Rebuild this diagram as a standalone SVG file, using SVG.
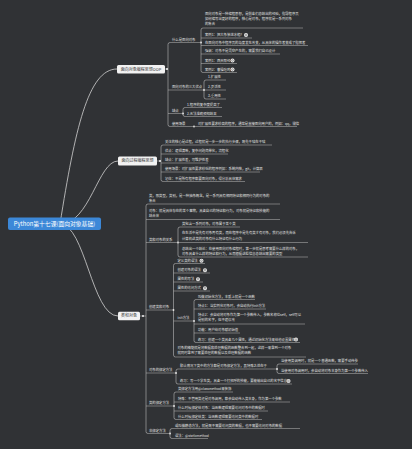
<svg xmlns="http://www.w3.org/2000/svg" width="412" height="449" viewBox="0 0 412 449">
<style>
.t{font-family:"Noto Sans CJK SC","Noto Sans",sans-serif;font-size:3.35px;fill:#e2e2e2}
.bt{font-family:"Noto Sans CJK SC","Noto Sans",sans-serif;font-size:4px;fill:#333;text-anchor:middle}
.rt{font-family:"Noto Sans CJK SC","Noto Sans",sans-serif;font-size:5.8px;fill:#fff;text-anchor:middle}
.ul{stroke:#bdbdbd;stroke-width:0.5;fill:none}
.c{stroke:#c8c8c8;stroke-width:0.55;fill:none}
.cv{stroke:#d2d2d2;stroke-width:0.8;fill:none}
.dot{fill:#f0f0f0}
.box{fill:#f2f2f2}
</style>
<defs>
<g id="ic"><circle r="2" fill="#f2f2f2"/><circle r="0.9" fill="none" stroke="#333" stroke-width="0.4"/></g>
</defs>
<rect width="412" height="449" fill="#303235"/>

<g id="connectors">
<path class="cv" d="M60,224 C75,130 88,69 117,69"/>
<path class="cv" d="M60,224 C90,224 98,161 118,161"/>
<path class="cv" d="M60,224 C85,224 92,316 118,316"/>
<path class="c" d="M165,69 H168"/>
<path class="c" d="M157,161 H161"/>
<path class="c" d="M140,316 H146"/>
<path class="c" d="M170,42.5 Q168,42.5 168,44.5 V124.5 Q168,126.5 170,126.5"/>
<path class="c" d="M203,28 Q201,28 201,30 V70.5 Q201,72.5 203,72.5"/>
<path class="c" d="M206,80 Q204,80 204,82 V97 Q204,99 206,99"/>
<path class="c" d="M185,107.5 Q183,107.5 183,109.5 V114.5 Q183,116.5 185,116.5"/>
<path class="c" d="M163,145 Q161,145 161,147 V179.5 Q161,181.5 163,181.5"/>
<path class="c" d="M148,204 Q146,204 146,206 V431.5 Q146,433.5 148,433.5"/>
<path class="c" d="M180,227 Q178,227 178,229 V255 Q178,257 180,257"/>
<path class="c" d="M175.5,263.5 Q173.5,263.5 173.5,265.5 V355 Q173.5,357 175.5,357"/>
<path class="c" d="M196,299.5 Q194,299.5 194,301.5 V340.5 Q194,342.5 196,342.5"/>
<path class="c" d="M178,369 Q176,369 176,371 V382 Q176,384 178,384"/>
<path class="c" d="M279,364 Q277,364 277,366 V371.5 Q277,373.5 279,373.5"/>
<path class="c" d="M176,392 Q174,392 174,394 V417.5 Q174,419.5 176,419.5"/>
<path class="c" d="M172,428.5 Q170,428.5 170,430.5 V436.5 Q170,438.5 172,438.5"/>
<g class="dot">
<circle cx="167" cy="69" r="1"/><circle cx="160" cy="161" r="1"/><circle cx="143" cy="316" r="1"/>
<circle cx="201" cy="42.5" r="0.9"/><circle cx="204" cy="90" r="0.9"/><circle cx="183" cy="113.5" r="0.9"/><circle cx="194" cy="126.5" r="0.9"/>
<circle cx="178" cy="242.5" r="0.9"/><circle cx="173.5" cy="310" r="0.9"/><circle cx="194" cy="321" r="0.9"/>
<circle cx="176" cy="373" r="0.9"/><circle cx="277" cy="369" r="0.9"/><circle cx="174" cy="406" r="0.9"/><circle cx="170" cy="433.5" r="0.9"/>
</g>
</g>

<g id="root"><rect x="8" y="217.5" width="93" height="12.5" rx="2" fill="#3c88d8"/><text class="rt" x="54.5" y="226">Python第十七课(面向对象基础)</text></g>

<g id="b-oop"><rect class="box" x="117" y="65" width="48" height="8.5" rx="1.5"/><text class="bt" x="141" y="70.6">面向对象编程思想OOP</text></g>
<g id="b-pop"><rect class="box" x="118" y="156.5" width="39" height="9" rx="1.5"/><text class="bt" x="137.5" y="162.4">面向过程编程思想</text></g>
<g id="b-cls"><rect class="box" x="118" y="311.8" width="22" height="8.5" rx="1.5"/><text class="bt" x="129" y="317.4">类和对象</text></g>

<g id="n1"><path class="ul" d="M170,42.5 H201"/><text class="t" x="172" y="41">什么是面向对象</text></g>
<g id="n1a"><path class="ul" d="M203,28 H303"/><text class="t" x="205" y="14.5">面向对象是一种编程思想，是前辈们总结出的经验，指导程序员</text><text class="t" x="205" y="19.8">如何编写出更好的程序，核心是对象，程序就是一系列对象</text><text class="t" x="205" y="25.1">的集合</text></g>
<g id="n1b"><path class="ul" d="M201,38 H252"/><text class="t" x="205" y="36">案例1：把大象装进冰箱？</text><use href="#ic" x="246" y="35"/></g>
<g id="n1c"><path class="ul" d="M201,45.5 H308"/><text class="t" x="205" y="43.6">在面向对象中程序员的角度发生改变，从具体的操作者变成了指挥者</text></g>
<g id="n1d"><path class="ul" d="M201,54 H280"/><text class="t" x="205" y="52">强调：对象不是凭空产生的，需要我们自己设计</text></g>
<g id="n1e"><path class="ul" d="M201,63.5 H237"/><text class="t" x="205" y="61.5">案例1：西天取经</text><use href="#ic" x="232.5" y="60.5"/></g>
<g id="n1f"><path class="ul" d="M203,72.5 H237"/><text class="t" x="205" y="70.5">案例2：曹操吃鸡</text><use href="#ic" x="232.5" y="69.5"/></g>

<g id="n2"><path class="ul" d="M168,90 H204"/><text class="t" x="172" y="88">面向对象的三大优点</text></g>
<g id="n2a"><path class="ul" d="M206,80 H226"/><text class="t" x="208" y="78">1.扩展性</text></g>
<g id="n2b"><path class="ul" d="M204,90 H226"/><text class="t" x="208" y="88">2.灵活性</text></g>
<g id="n2c"><path class="ul" d="M206,99 H226"/><text class="t" x="208" y="97">3.重用性</text></g>

<g id="n3"><path class="ul" d="M168,113.5 H183"/><text class="t" x="172" y="111.5">缺点</text></g>
<g id="n3a"><path class="ul" d="M185,107.5 H222"/><text class="t" x="187" y="105.5">1.程序的复杂度提高了</text></g>
<g id="n3b"><path class="ul" d="M185,116.5 H222"/><text class="t" x="187" y="114.5">2.无法准确预知结果</text></g>

<g id="n4"><path class="ul" d="M170,126.5 H194"/><text class="t" x="172" y="124.5">使用场景</text></g>
<g id="n4a"><path class="ul" d="M194,126.5 H297"/><text class="t" x="198" y="124.5">对扩展性要求较高的程序，通常是直接面向用户的，例如：qq，微信</text></g>

<g id="p1"><path class="ul" d="M163,145 H272"/><text class="t" x="165" y="143">关注的核心是过程，过程就是一步一步的执行步骤，既先干啥在干啥</text></g>
<g id="p2"><path class="ul" d="M161,154 H228"/><text class="t" x="165" y="152">优点：逻辑清晰，复杂问题简单化，流程化</text></g>
<g id="p3"><path class="ul" d="M161,163 H208"/><text class="t" x="165" y="161">缺点：扩展性差，可维护性差</text></g>
<g id="p4"><path class="ul" d="M161,172 H260"/><text class="t" x="165" y="170">使用场景：对扩展性要求较低的程序例如：系统内核，git，计算器</text></g>
<g id="p5"><path class="ul" d="M163,181.5 H245"/><text class="t" x="165" y="179.5">记住：不是所有程序都要面向对象，得分析具体需求</text></g>

<g id="c1"><path class="ul" d="M148,204 H280"/><text class="t" x="149" y="197.3">类，即类型，类别，是一种抽象概念，是一系列具有相同特征和相同行为的对象的</text><text class="t" x="149" y="202.4">集合</text></g>
<g id="c2"><path class="ul" d="M146,219.5 H280"/><text class="t" x="149" y="211.8">对象：就是具体存在的某个事物，具备自己的特征和行为，对象就是特征和技能的</text><text class="t" x="149" y="217">结合体</text></g>

<g id="rel"><path class="ul" d="M146,242.5 H178"/><text class="t" x="149" y="240.5">类和对象的关系</text></g>
<g id="rel1"><path class="ul" d="M180,227 H240"/><text class="t" x="182" y="225">类包含一系列对象，对象属于某个类</text></g>
<g id="rel2"><path class="ul" d="M178,242.5 H308"/><text class="t" x="182" y="234.4">在生活中是先有对象再有类，而在程序中是先有类才有对象，我们必须先告诉</text><text class="t" x="182" y="239.7">计算机这类的对象有什么特征有什么行为</text></g>
<g id="rel3"><path class="ul" d="M180,257 H308"/><text class="t" x="182" y="249.5">总结出一个结论：在使用面向对象编程时，第一步就是思考需要什么样的对象，</text><text class="t" x="182" y="254.8">对象具备什么样的特征和行为，从而根据这些信息总结出需要的类型</text></g>

<g id="create"><path class="ul" d="M146,310 H173.5"/><text class="t" x="149" y="308">创建类和对象</text></g>
<g id="cr1"><path class="ul" d="M175.5,263.5 H205"/><text class="t" x="177.5" y="261.5">定义类的语法</text><use href="#ic" x="201.5" y="260.7"/></g>
<g id="cr2"><path class="ul" d="M173.5,273 H210"/><text class="t" x="177.5" y="271">创建对象的语法</text><use href="#ic" x="205" y="270.2"/></g>
<g id="cr3"><path class="ul" d="M173.5,282 H203"/><text class="t" x="177.5" y="280">属性的写法</text><use href="#ic" x="198" y="279.2"/></g>
<g id="cr4"><path class="ul" d="M173.5,291 H210"/><text class="t" x="177.5" y="289">属性的访问方式</text><use href="#ic" x="205" y="288.2"/></g>
<g id="init"><path class="ul" d="M173.5,321 H194"/><text class="t" x="177.5" y="319">init方法</text></g>
<g id="in1"><path class="ul" d="M196,299.5 H255"/><text class="t" x="198" y="297.5">叫做初始化方法，本质上就是一个函数</text></g>
<g id="in2"><path class="ul" d="M194,309 H266"/><text class="t" x="198" y="307">特点1：当实例化对象时，会自动执行init方法</text></g>
<g id="in3"><path class="ul" d="M194,324 H305"/><text class="t" x="198" y="315.8">特点2：会自动将对象作为第一个参数传入，参数名称位self，self可以</text><text class="t" x="198" y="321.2">是别的名字，但不建议改</text></g>
<g id="in4"><path class="ul" d="M194,333 H240"/><text class="t" x="198" y="331">功能：用户给对象赋初始值</text></g>
<g id="in5"><path class="ul" d="M196,342.5 H300"/><text class="t" x="198" y="340.5">练习：创建一个类具备几个属性，通过初始化方法来给他设置属性</text><use href="#ic" x="296" y="339.6"/></g>
<g id="cr5"><path class="ul" d="M175.5,357 H306"/><text class="t" x="177.5" y="348.6">对象的精髓就是将数据和处理数据的函数整合到一起，这样一来拿到一个对象</text><text class="t" x="177.5" y="354">就同时拿到了需要处理的数据以及处理数据的函数</text></g>

<g id="objbind"><path class="ul" d="M146,373 H176"/><text class="t" x="149" y="371">对象的绑定方法</text></g>
<g id="ob1"><path class="ul" d="M178,369 H277"/><text class="t" x="180" y="367">默认情况下类中的方法都是对象绑定方法，其特殊之处在于</text></g>
<g id="ob1a"><path class="ul" d="M279,364 H358"/><text class="t" x="281" y="362">当使用类调用时，就是一个普通函数，需要手动传参</text></g>
<g id="ob1b"><path class="ul" d="M279,373.5 H368"/><text class="t" x="281" y="371.5">当使用对象调用时，会自动将对象本身作为第一个参数传入</text></g>
<g id="ob2"><path class="ul" d="M178,384 H292"/><text class="t" x="180" y="382">练习：写一个学生类，具备一个打招呼的技能，要能输出自己的名字信息</text><use href="#ic" x="288.5" y="381"/></g>

<g id="clsbind"><path class="ul" d="M146,406 H174"/><text class="t" x="149" y="404">类的绑定方法</text></g>
<g id="cb1"><path class="ul" d="M176,392 H233"/><text class="t" x="178" y="390">类绑定方法用@classmethod来装饰</text></g>
<g id="cb2"><path class="ul" d="M174,402 H290"/><text class="t" x="178" y="400">特殊：不管用类还是对象调用，都会自动传入类本身，作为第一个参数</text></g>
<g id="cb3"><path class="ul" d="M174,411 H268"/><text class="t" x="178" y="409">什么时候绑定给对象：当函数逻辑需要访问对象中的数据时</text></g>
<g id="cb4"><path class="ul" d="M176,419.5 H262"/><text class="t" x="178" y="417.5">什么时候绑定给类：当函数逻辑需要访问类中的数据时</text></g>

<g id="static"><path class="ul" d="M148,433.5 H170"/><text class="t" x="149" y="431.5">非绑定方法</text></g>
<g id="st1"><path class="ul" d="M172,428.5 H300"/><text class="t" x="175" y="426.5">或叫做静态方法，就是既不需要访问类的数据，也不需要访问对象的数据</text></g>
<g id="st2"><path class="ul" d="M172,438.5 H208"/><text class="t" x="175" y="436.5">语法：@staticmethod</text></g>
</svg>
